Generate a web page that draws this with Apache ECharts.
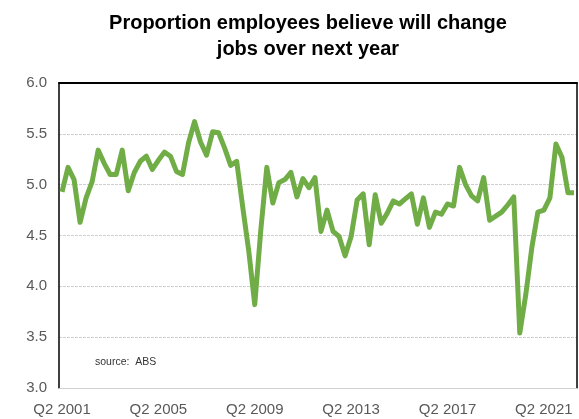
<!DOCTYPE html>
<html>
<head>
<meta charset="utf-8">
<script src="https://cdn.jsdelivr.net/npm/echarts@6/dist/echarts.min.js"></script>
<style>
  html, body { margin: 0; padding: 0; background: #fff; }
  #chart { width: 579px; height: 419px; }
</style>
</head>
<body>
<div id="chart"></div>
<script>
// Quarterly series, Q2 2001 to Q3 2022
const startYear = 2001;
const startQuarter = 2;
const values = [
  4.93, 5.17, 5.05, 4.63, 4.87, 5.03, 5.34, 5.21, 5.10, 5.10,
  5.34, 4.94, 5.12, 5.23, 5.28, 5.15, 5.24, 5.32, 5.28, 5.13,
  5.10, 5.41, 5.62, 5.42, 5.29, 5.52, 5.51, 5.36, 5.19, 5.23,
  4.78, 4.35, 3.82, 4.55, 5.17, 4.82, 5.02, 5.05, 5.12, 4.88,
  5.06, 4.97, 5.07, 4.54, 4.75, 4.54, 4.49, 4.30, 4.49, 4.85,
  4.91, 4.41, 4.90, 4.62, 4.72, 4.84, 4.81, 4.86, 4.91, 4.61,
  4.87, 4.58, 4.73, 4.71, 4.81, 4.79, 5.17, 5.00, 4.89, 4.84,
  5.07, 4.65, 4.69, 4.73, 4.80, 4.88, 3.54, 3.92, 4.38, 4.73,
  4.75, 4.87, 5.40, 5.27, 4.92, 4.92
];
const yTicks = { min: 3.0, max: 6.0, interval: 0.5 };
const titleText = 'Proportion employees believe will change\njobs over next year';
const sourceText = 'source:  ABS';

// Build "Qn YYYY" category labels
const categories = values.map((_, i) => {
  const q = (startQuarter - 1 + i) % 4 + 1;
  const y = startYear + Math.floor((startQuarter - 1 + i) / 4);
  return 'Q' + q + ' ' + y;
});

const font = '"Liberation Sans", Arial, sans-serif';
const chart = echarts.init(document.getElementById('chart'));
chart.setOption({
  animation: false,
  title: [
    {
      text: titleText,
      left: 303, top: 5, textAlign: 'center',
      textStyle: { fontFamily: font, fontSize: 20, fontWeight: 'bold', color: '#000', lineHeight: 26 }
    },
    {
      text: sourceText,
      left: 90, top: 352,
      textStyle: { fontFamily: font, fontSize: 10.5, fontWeight: 'normal', color: '#333' }
    }
  ],
  grid: { left: 59, right: 2, top: 83, bottom: 31 },
  xAxis: [
    {
      type: 'category',
      data: categories,
      boundaryGap: true,
      axisLine: { lineStyle: { color: '#d0d0d0', width: 1 } },
      axisTick: { show: false },
      axisLabel: {
        interval: 15, margin: 14,
        fontFamily: font, fontSize: 15, color: '#595959'
      }
    },
    {
      type: 'category',
      position: 'top',
      data: categories,
      axisLine: { show: true, lineStyle: { color: '#000', width: 2 } },
      axisTick: { show: false },
      axisLabel: { show: false }
    }
  ],
  yAxis: [
    {
      type: 'value',
      min: yTicks.min, max: yTicks.max, interval: yTicks.interval,
      axisLine: { show: true, lineStyle: { color: '#000', width: 1.5 } },
      axisTick: { show: false },
      axisLabel: {
        margin: 12, fontFamily: font, fontSize: 15, color: '#595959',
        formatter: v => v.toFixed(1)
      },
      splitLine: { show: true, lineStyle: { color: '#cfcfcf', width: 1, type: [3, 1] } }
    },
    {
      type: 'value',
      position: 'right',
      min: yTicks.min, max: yTicks.max, interval: yTicks.interval,
      axisLine: { show: true, lineStyle: { color: '#000', width: 1.5 } },
      axisTick: { show: false },
      axisLabel: { show: false },
      splitLine: { show: false }
    }
  ],
  series: [
    {
      type: 'line',
      data: values,
      xAxisIndex: 0, yAxisIndex: 0,
      showSymbol: false,
      lineStyle: { color: '#70AD47', width: 5, join: 'round' },
      itemStyle: { color: '#70AD47' }
    }
  ]
});
</script>
</body>
</html>
